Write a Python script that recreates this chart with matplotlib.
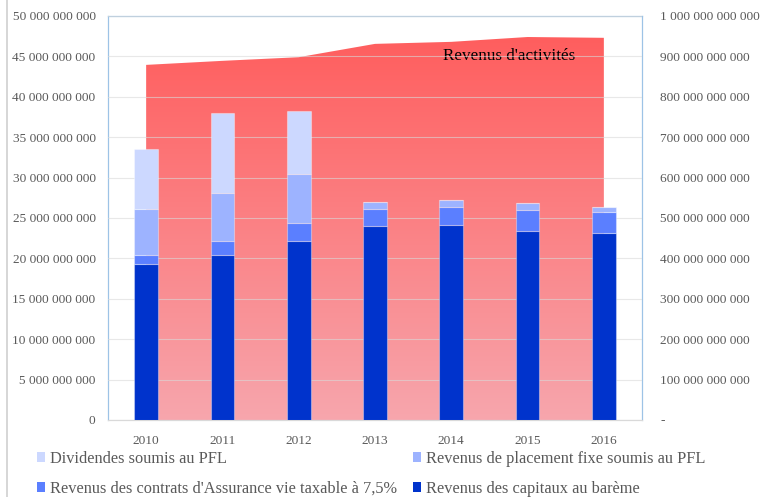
#coding:utf-8

import numpy as np
import matplotlib.pyplot as plt
from matplotlib.patches import Patch
from matplotlib.ticker import FuncFormatter
from matplotlib.colors import LinearSegmentedColormap

plt.rcParams['font.family'] = ['Liberation Serif', 'DejaVu Serif']

years = ['2010', '2011', '2012', '2013', '2014', '2015', '2016']

# milliards d'euros (axe de gauche)
bareme = [19.3, 20.4, 22.2, 24.05, 24.1, 23.4, 23.1]
assurance_vie = [1.1, 1.8, 2.2, 2.05, 2.3, 2.6, 2.6]
placement_pfl = [5.7, 5.9, 6.0, 0.9, 0.8, 0.8, 0.7]
dividendes_pfl = [7.5, 9.85, 7.9, 0.0, 0.0, 0.0, 0.0]

# milliards d'euros (axe de droite)
revenus_activites = [879, 889, 898, 931, 936, 948, 946]

labels = ["Dividendes soumis au PFL",
          "Revenus de placement fixe soumis au PFL",
          "Revenus des contrats d'Assurance vie taxable à 7,5%",
          "Revenus des capitaux au barème"]
colors = ['#CCD8FF', '#9DB3FF', '#5B7FFF', '#0033CC']

grey = '#595959'
frame = '#9DC3E6'


def fmt_space(v, pos):
    if v == 0:
        return '0'
    return '{:,.0f}'.format(v).replace(',', ' ')


def fmt_right(v, pos):
    if v == 0:
        return '-'
    return '{:,.0f}'.format(v).replace(',', ' ')


fig = plt.figure(figsize=(7.66, 4.97), dpi=100)
ax = fig.add_axes([108 / 766, 77 / 497, 534 / 766, 404 / 497])
ax2 = ax.twinx()
ax.set_zorder(2)
ax2.set_zorder(1)
ax.patch.set_visible(False)

x = np.arange(len(years))

# --- surface des revenus d'activités (axe droit) avec dégradé ---
act = np.array(revenus_activites) * 1e9
poly = ax2.fill_between(x, 0, act, color='none', lw=0)
cmap = LinearSegmentedColormap.from_list('rg', ['#F7A6AD', '#FF5E5E'])
grad = np.linspace(0, 1, 256).reshape(-1, 1)
img = ax2.imshow(grad, cmap=cmap, origin='lower', aspect='auto',
                 extent=[x[0], x[-1], 0, act.max()], zorder=1)
img.set_clip_path(poly.get_paths()[0], transform=ax2.transData)
ax2.text(4.76, 901e9, "Revenus d'activités", ha='center', va='center',
         fontsize=12.3, color='black', zorder=3)

# --- barres empilées (axe gauche) ---
series = [dividendes_pfl, placement_pfl, assurance_vie, bareme]
stack_order = [3, 2, 1, 0]
bottom = np.zeros(len(years))
for i in stack_order:
    vals = np.array(series[i]) * 1e9
    ax.bar(x, vals, 0.31, bottom=bottom, color=colors[i],
           edgecolor=(1, 1, 1, 0.35), linewidth=0.8, zorder=3)
    bottom += vals

ax.set_xlim(-0.5, len(years) - 0.5)
ax.set_ylim(0, 50e9)
ax2.set_ylim(0, 1000e9)
ax.set_yticks(np.arange(0, 50.1e9, 5e9))
ax2.set_yticks(np.arange(0, 1000.1e9, 100e9))
ax.yaxis.set_major_formatter(FuncFormatter(fmt_space))
ax2.yaxis.set_major_formatter(FuncFormatter(fmt_right))
ax.set_xticks(x)
ax.set_xticklabels(years)

ax.grid(axis='y', color='#D9D9D9', lw=0.8, alpha=0.6, zorder=2)
ax.set_axisbelow(False)
ax.tick_params(axis='y', length=0, labelsize=9.6, colors=grey, pad=9)
ax.tick_params(axis='x', length=0, labelsize=9.6, colors=grey, pad=11)
ax2.tick_params(axis='y', length=0, labelsize=9.6, colors=grey, pad=13)

for a in (ax, ax2):
    for s in a.spines.values():
        s.set_color(frame)
        s.set_linewidth(0.8)
ax.spines['bottom'].set_color('#D9D9D9')
ax2.spines['bottom'].set_color('#D9D9D9')

# légende en deux colonnes placées séparément
leg_kw = dict(loc='upper left', frameon=False, fontsize=11.8,
              labelcolor=grey, handlelength=0.5, handleheight=0.55,
              handletextpad=0.3, labelspacing=0.85, borderpad=0,
              borderaxespad=0)
for col, (k1, k2) in zip([37, 413], [(0, 2), (1, 3)]):
    fig.legend([Patch(facecolor=colors[k1]), Patch(facecolor=colors[k2])],
               [labels[k1], labels[k2]],
               bbox_to_anchor=(col / 766, 1 - 451 / 497), **leg_kw)

# trait gris du cadre à gauche
fig.add_artist(plt.Line2D([7 / 766, 7 / 766], [0, 1], color='#D0D0D0',
                          lw=1.2, transform=fig.transFigure))

fig.savefig('out.png', dpi=100)
